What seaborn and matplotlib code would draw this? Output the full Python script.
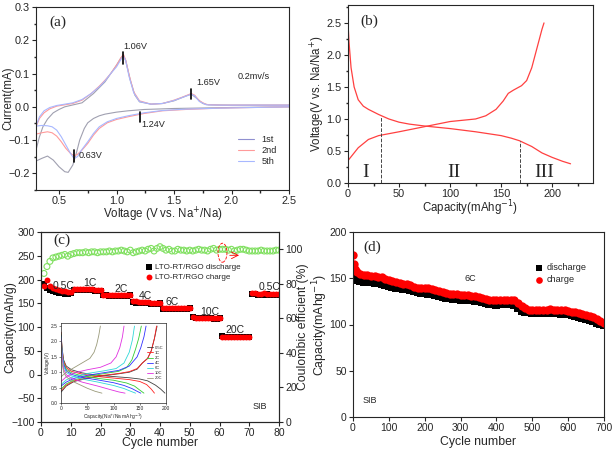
import numpy as np
import pandas as pd
import matplotlib
matplotlib.use('Agg')
import matplotlib.pyplot as plt
import seaborn as sns
from matplotlib.patches import Ellipse
from matplotlib.lines import Line2D
from matplotlib.ticker import MultipleLocator, AutoMinorLocator

# ---------------- (a) CV curves ----------------
cv1_v = [0.30, 0.33, 0.36, 0.40, 0.45, 0.50, 0.55, 0.60, 0.70, 0.80, 0.90, 0.95, 1.00, 1.04, 1.06, 1.08,
         1.12, 1.16, 1.20, 1.30, 1.40, 1.50, 1.60, 1.65, 1.70, 1.75, 1.80, 2.00, 2.50,
         2.50, 2.00, 1.50, 1.24, 1.10, 1.00, 0.90, 0.85, 0.80, 0.75, 0.72, 0.68, 0.65, 0.62, 0.58,
         0.55, 0.50, 0.45, 0.40, 0.35, 0.30]
cv1_i = [-0.13, -0.09, -0.06, -0.037, -0.018, -0.008, 0.0, 0.004, 0.012, 0.04, 0.075, 0.1, 0.125, 0.148, 0.155, 0.14,
         0.08, 0.035, 0.015, 0.008, 0.01, 0.018, 0.032, 0.038, 0.025, 0.01, 0.006, 0.005, 0.005,
         0.0, -0.002, -0.005, -0.008, -0.012, -0.016, -0.022, -0.027, -0.035, -0.048, -0.065, -0.1, -0.14, -0.175, -0.197,
         -0.195, -0.18, -0.16, -0.148, -0.155, -0.163]

cv2_v = [0.30, 0.33, 0.37, 0.42, 0.48, 0.55, 0.62, 0.70, 0.78, 0.85, 0.90, 0.95, 1.00, 1.04, 1.06, 1.08, 1.11,
         1.15, 1.20, 1.30, 1.40, 1.50, 1.58, 1.65, 1.68, 1.72, 1.78, 1.90, 2.20, 2.50,
         2.50, 2.20, 1.90, 1.60, 1.40, 1.24, 1.10, 1.00, 0.92, 0.85, 0.80, 0.75, 0.70, 0.66, 0.63, 0.60,
         0.56, 0.52, 0.48, 0.44, 0.40, 0.35, 0.30]
cv2_i = [-0.06, -0.035, -0.018, -0.006, 0.002, 0.006, 0.01, 0.02, 0.04, 0.062, 0.08, 0.1, 0.125, 0.148, 0.158, 0.14, 0.095,
         0.045, 0.018, 0.008, 0.01, 0.02, 0.03, 0.04, 0.035, 0.018, 0.007, 0.005, 0.005, 0.005,
         0.0, -0.002, -0.004, -0.008, -0.012, -0.02, -0.03, -0.038, -0.048, -0.065, -0.085, -0.11, -0.13, -0.143, -0.147, -0.14,
         -0.125, -0.105, -0.088, -0.078, -0.075, -0.078, -0.082]
cv5_i = [-0.058, -0.03, -0.012, -0.002, 0.004, 0.008, 0.012, 0.022, 0.04, 0.06, 0.078, 0.1, 0.12, 0.143, 0.152, 0.138, 0.09,
         0.042, 0.016, 0.008, 0.01, 0.019, 0.029, 0.038, 0.033, 0.016, 0.006, 0.005, 0.005, 0.005,
         0.0, -0.002, -0.004, -0.007, -0.011, -0.018, -0.027, -0.035, -0.045, -0.06, -0.08, -0.105, -0.128, -0.15, -0.155, -0.14,
         -0.115, -0.09, -0.07, -0.06, -0.057, -0.056, -0.058]

# ---------------- (b) charge / discharge ----------------
dis_cap = [0, 1, 3, 6, 10, 15, 20, 30, 40, 50, 60, 75, 100, 125, 150, 160, 168, 180, 190, 200, 210, 218]
dis_v = [2.5, 2.2, 1.8, 1.5, 1.3, 1.2, 1.15, 1.07, 1.0, 0.95, 0.92, 0.89, 0.85, 0.8, 0.74, 0.7, 0.66, 0.57, 0.47, 0.4, 0.34, 0.3]
chg_cap = [0, 5, 10, 20, 30, 50, 75, 100, 125, 135, 145, 152, 157, 162, 170, 175, 180, 185, 190, 192]
chg_v = [0.35, 0.45, 0.55, 0.68, 0.74, 0.8, 0.88, 0.96, 1.0, 1.05, 1.15, 1.28, 1.4, 1.45, 1.52, 1.6, 1.8, 2.1, 2.4, 2.5]

# ---------------- (c) rate performance ----------------
cycles_c = list(range(1, 81))
rate_dis = [190, 183, 178, 175, 173, 172, 171, 170, 170, 171,
            178, 178, 178, 177, 177, 177, 177, 176, 176, 176,
            167, 167, 166, 166, 166, 166, 166, 166, 166, 168,
            153, 151, 150, 150, 150, 150, 149, 149, 149, 150,
            137, 138, 138, 138, 138, 138, 138, 138, 138, 139,
            121, 119, 118, 118, 118, 118, 118, 117, 117, 118,
            82, 80, 79, 79, 79, 79, 79, 79, 79, 79,
            169, 169, 168, 168, 168, 169, 168, 168, 168, 168]
rate_chg = [186, 200, 186, 183, 180, 178, 176, 175, 174, 174,
            180, 180, 180, 179, 179, 179, 179, 178, 178, 178,
            168, 168, 167, 167, 167, 167, 167, 167, 167, 168,
            155, 154, 153, 152, 152, 152, 151, 151, 151, 151,
            139, 139, 139, 139, 139, 139, 139, 139, 140, 140,
            121, 120, 119, 119, 119, 119, 119, 118, 118, 119,
            80, 80, 80, 80, 80, 80, 80, 80, 80, 80,
            171, 171, 170, 170, 171, 170, 170, 170, 170, 170]
ce = [86, 90, 93, 95, 95.5, 96, 96.5, 97, 96, 97,
      97.5, 98, 98, 98, 98.5, 98, 98.5, 98.5, 98, 98.5,
      98.5, 98.5, 99, 98.5, 99, 99, 99.5, 99, 98.5, 99.5,
      98, 98.5, 99, 99.5, 99, 100, 100.5, 99, 100.5, 101.5,
      100.5, 99.5, 100, 99, 99, 100, 99.5, 99.5, 99, 99.5,
      99, 99.5, 100, 99.5, 99.5, 99, 100, 100.5, 99.5, 100,
      100, 100, 99.5, 100, 99, 99.5, 100, 100, 99.5, 99,
      99, 99, 99, 99.5, 99, 99, 99, 99, 99.5, 99.5]
rate_labels = ['0.5C', '1C', '2C', '4C', '6C', '10C', '20C', '0.5C']
rate_label_x = [4, 14.3, 24.7, 33, 42, 53.4, 62, 73]
rate_label_y = [186, 192, 180, 165, 153, 132, 93, 184]

# inset curves (capacity, voltage) per rate
inset_rates = ['0.5C', '1C', '2C', '4C', '6C', '10C', '20C']
inset_colors = ['#404040', '#ff2020', '#33cc33', '#3030ff', '#30d8d8', '#e030e0', '#9a9a7a']
ins_dis_cap = [[0, 2, 5, 10, 20, 40, 70, 100, 130, 150, 165, 180, 190, 198],
               [0, 2, 5, 10, 20, 40, 70, 100, 130, 150, 163, 172, 178],
               [0, 2, 5, 10, 20, 40, 70, 100, 125, 140, 150, 158],
               [0, 2, 5, 10, 20, 40, 70, 100, 120, 135, 145, 152],
               [0, 2, 5, 10, 20, 40, 70, 100, 120, 133, 142],
               [0, 2, 5, 10, 20, 40, 70, 95, 110, 122],
               [0, 2, 5, 10, 20, 35, 50, 65, 78]]
ins_dis_v = [[2.3, 1.8, 1.4, 1.2, 1.08, 0.98, 0.9, 0.86, 0.82, 0.78, 0.72, 0.58, 0.45, 0.32],
             [2.3, 1.75, 1.35, 1.15, 1.03, 0.94, 0.86, 0.81, 0.76, 0.7, 0.6, 0.45, 0.32],
             [2.25, 1.7, 1.3, 1.1, 0.98, 0.88, 0.8, 0.74, 0.65, 0.55, 0.42, 0.32],
             [2.2, 1.65, 1.25, 1.05, 0.93, 0.83, 0.75, 0.66, 0.57, 0.47, 0.38, 0.32],
             [2.15, 1.6, 1.2, 1.0, 0.88, 0.78, 0.68, 0.57, 0.47, 0.38, 0.32],
             [2.1, 1.5, 1.1, 0.92, 0.8, 0.68, 0.55, 0.43, 0.36, 0.32],
             [2.0, 1.3, 1.0, 0.85, 0.72, 0.6, 0.48, 0.38, 0.32]]
ins_chg_cap = [[0, 10, 25, 50, 80, 110, 130, 145, 155, 165, 172, 178, 183],
               [0, 10, 25, 50, 80, 110, 130, 145, 155, 165, 172, 178, 182],
               [0, 10, 25, 50, 80, 110, 125, 135, 142, 148, 153],
               [0, 10, 25, 50, 80, 110, 130, 145, 152, 158, 162],
               [0, 10, 25, 50, 80, 105, 120, 130, 136, 140],
               [0, 10, 25, 50, 75, 95, 105, 112, 117, 120],
               [0, 10, 25, 40, 55, 63, 68, 72, 75]]
ins_chg_v = [[0.35, 0.55, 0.7, 0.8, 0.88, 0.95, 1.0, 1.1, 1.3, 1.45, 1.7, 2.1, 2.5],
             [0.4, 0.58, 0.72, 0.82, 0.9, 0.96, 1.02, 1.12, 1.3, 1.45, 1.7, 2.1, 2.5],
             [0.45, 0.62, 0.75, 0.86, 0.95, 1.03, 1.15, 1.4, 1.75, 2.1, 2.5],
             [0.55, 0.68, 0.8, 0.9, 0.98, 1.06, 1.2, 1.5, 1.8, 2.15, 2.5],
             [0.6, 0.75, 0.86, 0.96, 1.04, 1.12, 1.3, 1.65, 2.05, 2.5],
             [0.7, 0.85, 0.98, 1.08, 1.16, 1.3, 1.5, 1.8, 2.15, 2.5],
             [0.85, 1.0, 1.15, 1.3, 1.45, 1.65, 1.9, 2.2, 2.5]]

# ---------------- (d) long cycling at 6C ----------------
cycles_d = [1, 3, 5, 7] + list(range(10, 701, 10))
long_chg = [175, 165, 160, 158,
            157, 155, 154, 153, 152, 152, 151, 151, 149, 148,
            147, 146, 145, 144, 144, 143, 141, 140, 140, 140,
            139, 138, 137, 136, 135, 134, 133, 133, 133, 132,
            132, 132, 131, 131, 130, 129, 128, 127, 127, 126,
            127, 127, 127, 127, 126, 123, 120, 118, 116, 116,
            116, 116, 116, 116, 117, 116, 116, 116, 116, 115,
            114, 113, 112, 111, 110, 109, 108, 106, 104, 102]
long_dis = [155, 151, 150, 149,
            148, 147, 146, 146, 146, 145, 145, 144, 143, 142,
            141, 140, 139, 138, 138, 137, 136, 135, 134, 134,
            133, 133, 132, 131, 130, 129, 129, 128, 128, 127,
            127, 126, 126, 125, 125, 124, 123, 122, 122, 121,
            122, 122, 122, 122, 121, 118, 115, 114, 113, 112,
            112, 112, 112, 112, 112, 112, 112, 111, 111, 111,
            110, 109, 108, 107, 106, 105, 104, 102, 101, 100]

# ---------------- figure ----------------
sns.set_theme(style='ticks')
plt.rcParams['font.family'] = ['Liberation Sans', 'DejaVu Sans']
plt.rcParams['axes.linewidth'] = 0.8
plt.rcParams['xtick.major.width'] = 0.8
plt.rcParams['ytick.major.width'] = 0.8
plt.rcParams['xtick.major.size'] = 3
plt.rcParams['ytick.major.size'] = 3
plt.rcParams['xtick.minor.size'] = 1.8
plt.rcParams['ytick.minor.size'] = 1.8
serif = ['Liberation Serif', 'DejaVu Serif']

fig = plt.figure(figsize=(6.14, 4.5), dpi=100)
W, H = 614, 450


def box(l, t, r, b):
    return [l / W, (H - b) / H, (r - l) / W, (b - t) / H]


def place_labels(ax, xl_y, yl_x):
    ax.xaxis.set_label_coords(0.5, xl_y)
    ax.xaxis.label.set_va('center')
    ax.yaxis.set_label_coords(yl_x, 0.5)
    ax.yaxis.label.set_va('center')


# (a)
ax = fig.add_axes(box(36, 7, 289, 190))
sns.lineplot(x=cv1_v, y=cv1_i, sort=False, estimator=None, color='#a0a0b0', lw=0.8, ax=ax)
sns.lineplot(x=cv2_v, y=cv2_i, sort=False, estimator=None, color='#ff9a9a', lw=0.8, ax=ax)
sns.lineplot(x=cv2_v, y=cv5_i, sort=False, estimator=None, color='#a8b8ff', lw=0.8, ax=ax)
ax.set_xlim(0.3, 2.5)
ax.set_ylim(-0.25, 0.3)
ax.xaxis.set_major_locator(MultipleLocator(0.5))
ax.yaxis.set_major_locator(MultipleLocator(0.1))
ax.xaxis.set_minor_locator(AutoMinorLocator(2))
ax.yaxis.set_minor_locator(AutoMinorLocator(2))
ax.tick_params(labelsize=7.8, pad=1.5)
ax.set_xlabel('Voltage (V vs. Na$^{+}$/Na)', fontsize=8.3)
ax.set_ylabel('Current(mA)', fontsize=8.3)
place_labels(ax, -0.137, -0.111)
for xv, y0, y1 in [(1.06, 0.13, 0.165), (1.65, 0.025, 0.055), (1.20, -0.015, -0.045), (0.63, -0.13, -0.165)]:
    ax.plot([xv, xv], [y0, y1], color='black', lw=1.2)
ax.text(1.06, 0.175, '1.06V', fontsize=6.6, ha='left')
ax.text(1.69, 0.065, '1.65V', fontsize=6.6, ha='left')
ax.text(1.22, -0.06, '1.24V', fontsize=6.6, ha='left')
ax.text(0.67, -0.155, '0.63V', fontsize=6.6, ha='left')
ax.text(2.05, 0.085, '0.2mv/s', fontsize=6.6, ha='left')
ax.text(0.42, 0.253, '(a)', fontsize=11, family=serif, va='center')
hand = [Line2D([], [], color='#9090d0', lw=0.8), Line2D([], [], color='#ff9a9a', lw=0.8),
        Line2D([], [], color='#a8b8ff', lw=0.8)]
ax.legend(hand, ['1st', '2nd', '5th'], loc='upper left', bbox_to_anchor=(0.80, 0.30), frameon=False,
          fontsize=6.6, handlelength=1.75, labelspacing=0.2, handletextpad=0.75, borderpad=0,
          borderaxespad=0)

# (b)
ax = fig.add_axes(box(348, 5, 593, 183))
sns.lineplot(x=dis_cap, y=dis_v, sort=False, estimator=None, color='#ff4040', lw=0.9, ax=ax)
sns.lineplot(x=chg_cap, y=chg_v, sort=False, estimator=None, color='#ff4040', lw=0.9, ax=ax)
ax.plot([32, 32], [0, 1.05], color='#444444', lw=0.7, ls='--')
ax.plot([168, 168], [0, 0.66], color='#444444', lw=0.7, ls='--')
ax.set_xlim(0, 240)
ax.set_ylim(0, 2.78)
ax.xaxis.set_major_locator(MultipleLocator(50))
ax.yaxis.set_major_locator(MultipleLocator(0.5))
ax.xaxis.set_minor_locator(AutoMinorLocator(2))
ax.yaxis.set_minor_locator(AutoMinorLocator(2))
ax.tick_params(labelsize=7.8, pad=1.5)
ax.set_xlabel('Capacity(mAhg$^{-1}$)', fontsize=8.3)
ax.set_ylabel('Voltage(V vs. Na/Na$^{+}$)', fontsize=8.3)
place_labels(ax, -0.14, -0.122)
ax.text(17, 0.16, 'I', fontsize=14, family=serif, ha='center', va='center')
ax.text(104, 0.16, 'II', fontsize=14, family=serif, ha='center', va='center')
ax.text(192, 0.16, 'III', fontsize=14, family=serif, ha='center', va='center')
ax.text(11.7, 2.52, '(b)', fontsize=11, family=serif, va='center')

# (c)
ax = fig.add_axes(box(41, 232, 279, 422))
df_c = pd.DataFrame({'cycle': cycles_c, 'dis': rate_dis, 'chg': rate_chg, 'ce': ce})
sns.scatterplot(data=df_c, x='cycle', y='dis', marker='s', color='black', s=14, linewidth=0, ax=ax,
                label='LTO-RT/RGO discharge')
sns.scatterplot(data=df_c, x='cycle', y='chg', marker='o', color='red', s=18, linewidth=0, ax=ax,
                label='LTO-RT/RGO charge')
ax.set_xlim(0, 80)
ax.set_ylim(-100, 300)
ax.xaxis.set_major_locator(MultipleLocator(10))
ax.yaxis.set_major_locator(MultipleLocator(50))
ax.tick_params(labelsize=7.5, pad=1.5)
ax.set_xlabel('Cycle number', fontsize=8.8)
ax.set_ylabel('Capacity(mAh/g)', fontsize=8.8)
place_labels(ax, -0.112, -0.13)
for lab, lx, ly in zip(rate_labels, rate_label_x, rate_label_y):
    ax.text(lx, ly, lab, fontsize=7.5, va='center')
ax.text(71, -68, 'SIB', fontsize=6.5, va='center')
ax.text(4, 283, '(c)', fontsize=11, family=serif, va='center')
ax.legend(loc='upper left', bbox_to_anchor=(0.44, 0.835), frameon=False, fontsize=5.8,
          handlelength=0.8, handletextpad=0.4, labelspacing=0.25, borderpad=0, borderaxespad=0)
ax2 = ax.twinx()
sns.scatterplot(data=df_c, x='cycle', y='ce', marker='o', fc='none', ec='#80e060', s=18, linewidth=0.8,
                ax=ax2, legend=False)
ax2.set_ylim(0, 110)
ax2.yaxis.set_major_locator(MultipleLocator(20))
ax2.tick_params(labelsize=7.5, pad=1.5)
ax2.set_ylabel('Coulombic efficient (%)', fontsize=8.8)
ax2.yaxis.set_label_coords(1.10, 0.5)
ax2.yaxis.label.set_va('center')
ax2.add_patch(Ellipse((61, 98), 3, 11, fill=False, ec='red', ls='--', lw=0.6))
ax2.annotate('', xy=(67.5, 96.5), xytext=(62.5, 96.5),
             arrowprops=dict(arrowstyle='->', color='red', lw=0.6))

# inset of (c)
axi = fig.add_axes(box(61, 323, 166, 403))
for k in range(len(inset_rates)):
    sns.lineplot(x=ins_dis_cap[k], y=ins_dis_v[k], sort=False, estimator=None, color=inset_colors[k],
                 lw=0.6, ax=axi)
    sns.lineplot(x=ins_chg_cap[k], y=ins_chg_v[k], sort=False, estimator=None, color=inset_colors[k],
                 lw=0.6, ax=axi, label=inset_rates[k])
axi.set_xlim(0, 200)
axi.set_ylim(0, 2.6)
axi.xaxis.set_major_locator(MultipleLocator(50))
axi.yaxis.set_major_locator(MultipleLocator(0.5))
axi.tick_params(labelsize=3.5, pad=1, length=1.5, width=0.4)
for sp in axi.spines.values():
    sp.set_linewidth(0.5)
axi.set_xlabel('Capacity(Na$^{+}$/Na mAhg$^{-1}$)', fontsize=3.5, labelpad=0.5)
axi.set_ylabel('Voltage(V)', fontsize=3.5, labelpad=0.5)
axi.legend(loc='center right', bbox_to_anchor=(1.0, 0.5), frameon=False, fontsize=3,
           handlelength=1.6, labelspacing=0.25, handletextpad=0.4, borderpad=0.1)

# (d)
ax = fig.add_axes(box(353, 232, 604, 417))
df_d = pd.DataFrame({'cycle': cycles_d, 'dis': long_dis, 'chg': long_chg})
sns.scatterplot(data=df_d, x='cycle', y='dis', marker='s', color='black', s=30, linewidth=0, ax=ax,
                label='discharge')
sns.scatterplot(data=df_d, x='cycle', y='chg', marker='o', color='red', s=36, linewidth=0, ax=ax,
                label='charge')
ax.set_xlim(0, 700)
ax.set_ylim(0, 200)
ax.xaxis.set_major_locator(MultipleLocator(100))
ax.yaxis.set_major_locator(MultipleLocator(50))
ax.tick_params(labelsize=7.5, pad=1.5)
ax.set_xlabel('Cycle number', fontsize=8.8)
ax.set_ylabel('Capacity(mAhg$^{-1}$)', fontsize=8.8)
place_labels(ax, -0.135, -0.132)
ax.text(312, 150, '6C', fontsize=6.5, va='center')
ax.text(28, 18, 'SIB', fontsize=6.5, va='center')
ax.text(28, 184, '(d)', fontsize=11, family=serif, va='center')
ax.legend(loc='upper left', bbox_to_anchor=(0.725, 0.83), frameon=False, fontsize=6.6,
          handlelength=0.8, handletextpad=0.5, labelspacing=0.3, borderpad=0, borderaxespad=0,
          markerscale=0.8)

fig.savefig('out.png', dpi=100)
